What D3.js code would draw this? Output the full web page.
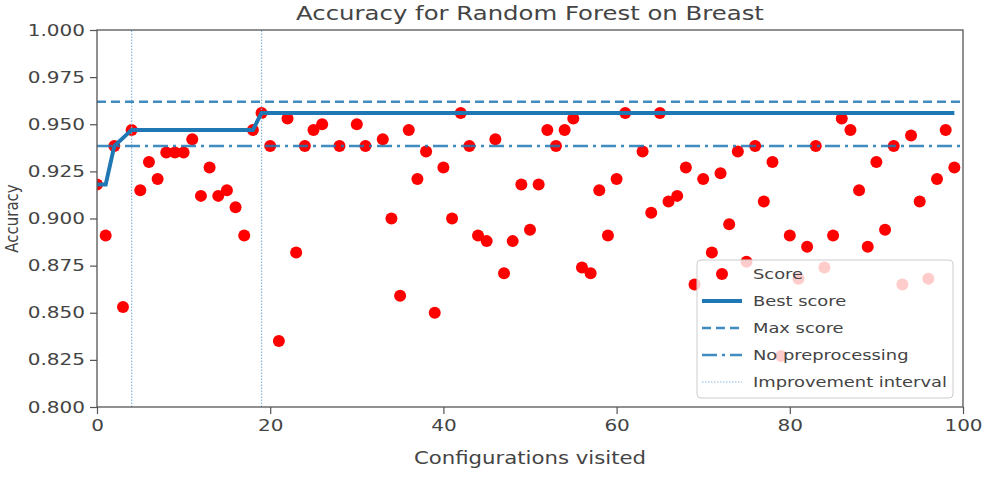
<!doctype html>
<html>
<head>
<meta charset="utf-8">
<style>
    body { margin: 0; background: #fff; }
    text { font-family: "DejaVu Sans", sans-serif; fill: #444; }
</style>
</head>
<body>
<div class="chart"></div>
<script src="https://d3js.org/d3.v7.min.js"></script>
<script>

    // scores (configs with no visible dot are left out)
    let configs = [0, 1, 2, 3, 4, 5, 6, 7, 8, 9, 10, 11, 12, 13, 14, 15, 16, 17, 18, 19,
        20, 21, 22, 23, 24, 25, 26, 28, 30, 31, 33, 34, 35, 36, 37, 38, 39,
        40, 41, 42, 43, 44, 45, 46, 47, 48, 49, 50, 51, 52, 53, 54, 55, 56, 57, 58, 59,
        60, 61, 63, 64, 65, 66, 67, 68, 69, 70, 71, 72, 73, 74, 75, 76, 77, 78, 79,
        80, 81, 82, 83, 84, 85, 86, 87, 88, 89, 90, 91, 92, 93, 94, 95, 96, 97, 98, 99];
    let scores = [0.918, 0.891, 0.9385, 0.853, 0.947, 0.915, 0.930, 0.921, 0.935, 0.935,
        0.935, 0.942, 0.912, 0.927, 0.912, 0.915, 0.906, 0.891, 0.947, 0.956,
        0.9385, 0.835, 0.953, 0.882, 0.9385, 0.947, 0.950, 0.9385, 0.950, 0.9385,
        0.942, 0.900, 0.859, 0.947, 0.921, 0.9355, 0.850,
        0.927, 0.900, 0.956, 0.9385, 0.891, 0.888, 0.942, 0.871, 0.888, 0.918,
        0.894, 0.918, 0.947, 0.9385, 0.947, 0.953, 0.874, 0.871, 0.915, 0.891,
        0.921, 0.956, 0.9355, 0.903, 0.956, 0.909, 0.912, 0.927, 0.865, 0.921,
        0.882, 0.924, 0.897, 0.9355, 0.877, 0.9385, 0.909, 0.930, 0.827,
        0.891, 0.868, 0.885, 0.9385, 0.874, 0.891, 0.953, 0.947, 0.915, 0.885,
        0.930, 0.894, 0.9385, 0.865, 0.944, 0.909, 0.868, 0.921, 0.947, 0.927];

    let bestConfigs = [0, 1, 2, 4, 18, 19, 99];
    let bestScores = [0.918, 0.918, 0.9385, 0.947, 0.947, 0.956, 0.956];

    let maxScore = 0.962;
    let noPreprocessing = 0.9385;
    let improvements = [4, 19];

    let yTicks = [0.800, 0.825, 0.850, 0.875, 0.900, 0.925, 0.950, 0.975, 1.000];
    let xTicks = [0, 20, 40, 60, 80, 100];
    let legendLabels = ['Score', 'Best score', 'Max score', 'No preprocessing', 'Improvement interval'];

    let width = 990;
    let height = 477;
    let margin = {top: 30, right: 27, bottom: 70, left: 97};
    let blue = '#1f77b4';
    let lightBlue = '#8ab8dd';
    let stretch = 'scale(1.25,1)';

    let svg = d3.select('.chart').append('svg')
        .attr('width', width)
        .attr('height', height);

    let x = d3.scaleLinear().domain([0, 100]).range([margin.left, width - margin.right]);
    let y = d3.scaleLinear().domain([0.8, 1.0]).range([height - margin.bottom, margin.top]);

    let points = configs.map((c, i) => ({c: c, s: scores[i]}));

    svg.append('defs').append('clipPath').attr('id', 'plot')
        .append('rect')
        .attr('x', x(0)).attr('y', y(1))
        .attr('width', x(100) - x(0)).attr('height', y(0.8) - y(1));

    let plot = svg.append('g').attr('clip-path', 'url(#plot)');

    // score dots
    plot.append('g').selectAll('circle')
        .data(points)
        .join('circle')
        .attr('cx', d => x(d.c))
        .attr('cy', d => y(d.s))
        .attr('r', 6)
        .attr('fill', '#ff0000');

    // improvement interval markers
    plot.append('g').selectAll('line')
        .data(improvements)
        .join('line')
        .attr('x1', d => x(d)).attr('x2', d => x(d))
        .attr('y1', y(0.8)).attr('y2', y(1))
        .attr('stroke', lightBlue)
        .attr('stroke-width', 1.2)
        .attr('stroke-dasharray', '1.5,1.5');

    // reference lines
    plot.append('line')
        .attr('x1', x(0)).attr('x2', x(100))
        .attr('y1', y(maxScore)).attr('y2', y(maxScore))
        .attr('stroke', blue).attr('stroke-opacity', 0.85)
        .attr('stroke-width', 2.5)
        .attr('stroke-dasharray', '9,5');

    plot.append('line')
        .attr('x1', x(0)).attr('x2', x(100))
        .attr('y1', y(noPreprocessing)).attr('y2', y(noPreprocessing))
        .attr('stroke', blue).attr('stroke-opacity', 0.85)
        .attr('stroke-width', 2.5)
        .attr('stroke-dasharray', '15,5,3,5');

    let bestLine = d3.line()
        .x((d, i) => x(bestConfigs[i]))
        .y(d => y(d));

    plot.append('path')
        .datum(bestScores)
        .attr('d', bestLine)
        .attr('fill', 'none')
        .attr('stroke', blue)
        .attr('stroke-width', 4);

    // axes
    let yAxis = svg.append('g')
        .attr('transform', `translate(${x(0)},0)`)
        .call(d3.axisLeft(y).tickValues(yTicks).tickFormat(d3.format('.3f')).tickSize(7).tickPadding(5));

    yAxis.selectAll('text')
        .attr('x', -12 / 1.25)
        .attr('transform', stretch)
        .style('font-size', '16px')
        .style('font-family', '"DejaVu Sans", sans-serif')
        .attr('fill', '#444');

    let xAxis = svg.append('g')
        .attr('transform', `translate(0,${y(0.8)})`)
        .call(d3.axisBottom(x).tickValues(xTicks).tickFormat(d3.format('d')).tickSize(7).tickPadding(6));

    xAxis.selectAll('text')
        .attr('transform', stretch)
        .style('font-size', '16px')
        .style('font-family', '"DejaVu Sans", sans-serif')
        .attr('fill', '#444');

    svg.selectAll('.domain').remove();
    svg.selectAll('.tick line').attr('stroke', '#555').attr('stroke-width', 1.2);

    // frame
    svg.append('rect')
        .attr('x', x(0)).attr('y', y(1))
        .attr('width', x(100) - x(0)).attr('height', y(0.8) - y(1))
        .attr('fill', 'none')
        .attr('stroke', '#555')
        .attr('stroke-width', 1.3);

    // titles
    svg.append('text')
        .attr('transform', `translate(${(x(0) + x(100)) / 2},20) ${stretch}`)
        .attr('text-anchor', 'middle')
        .style('font-size', '19.5px')
        .text('Accuracy for Random Forest on Breast');

    svg.append('text')
        .attr('transform', `translate(${(x(0) + x(100)) / 2},464) ${stretch}`)
        .attr('text-anchor', 'middle')
        .style('font-size', '17px')
        .text('Configurations visited');

    svg.append('text')
        .attr('transform', `translate(18,${(y(0.8) + y(1)) / 2}) rotate(-90) scale(1,1.2)`)
        .attr('text-anchor', 'middle')
        .style('font-size', '15px')
        .text('Accuracy');

    // legend
    let legend = svg.append('g').attr('transform', 'translate(697,260)');

    legend.append('rect')
        .attr('width', 256).attr('height', 138)
        .attr('rx', 4)
        .attr('fill', '#fff').attr('fill-opacity', 0.8)
        .attr('stroke', '#ccc');

    let rows = legend.selectAll('g.row')
        .data(legendLabels)
        .join('g')
        .attr('class', 'row')
        .attr('transform', (d, i) => `translate(0,${14 + i * 27})`);

    rows.append('text')
        .attr('transform', `translate(56,0) ${stretch}`)
        .attr('dy', '0.35em')
        .style('font-size', '14.3px')
        .text(d => d);

    rows.filter((d, i) => i === 0).append('circle')
        .attr('cx', 25).attr('r', 6).attr('fill', '#ff0000');

    rows.filter((d, i) => i === 1).append('line')
        .attr('x1', 5).attr('x2', 45)
        .attr('stroke', blue).attr('stroke-width', 4);

    rows.filter((d, i) => i === 2).append('line')
        .attr('x1', 5).attr('x2', 45)
        .attr('stroke', blue).attr('stroke-opacity', 0.85).attr('stroke-width', 2.5)
        .attr('stroke-dasharray', '9,5');

    rows.filter((d, i) => i === 3).append('line')
        .attr('x1', 5).attr('x2', 45)
        .attr('stroke', blue).attr('stroke-opacity', 0.85).attr('stroke-width', 2.5)
        .attr('stroke-dasharray', '15,5,3,5');

    rows.filter((d, i) => i === 4).append('line')
        .attr('x1', 5).attr('x2', 45)
        .attr('stroke', lightBlue).attr('stroke-width', 1.2)
        .attr('stroke-dasharray', '1.5,1.5');

</script>
</body>
</html>
